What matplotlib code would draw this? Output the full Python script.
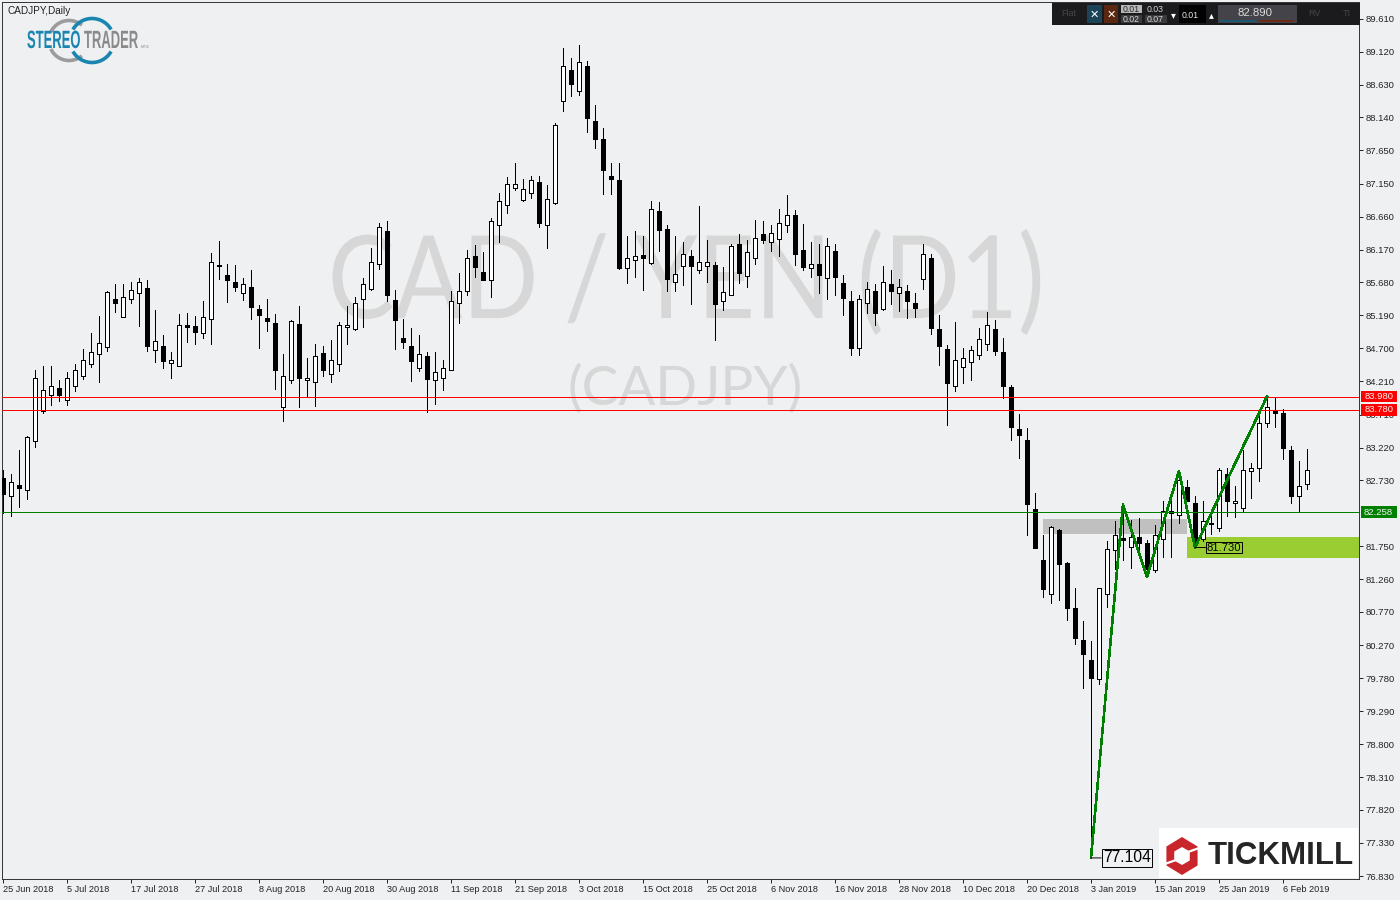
import numpy as np
import matplotlib
matplotlib.use('Agg')
import matplotlib.pyplot as plt
import matplotlib.patheffects as pe
from matplotlib.lines import Line2D
from matplotlib.patches import Polygon, Rectangle
from matplotlib.transforms import Affine2D, ScaledTranslation, blended_transform_factory

# daily CADJPY bars
opens = [
    82.76, 82.50, 82.66, 82.58, 83.32, 83.77, 84.01, 84.10, 83.93, 84.13,
    84.28, 84.46, 84.61, 84.72, 85.44, 85.17, 85.43, 85.53, 85.60, 84.68,
    84.74, 84.48, 84.44, 85.04, 85.03, 84.93, 85.13, 85.94, 85.79, 85.68,
    85.53, 85.62, 85.28, 85.15, 85.07, 83.83, 84.22, 85.06, 84.22, 84.20,
    84.63, 84.31, 84.47, 85.01, 84.99, 85.44, 85.59, 85.95, 86.44, 85.42,
    84.85, 84.73, 84.41, 84.58, 84.22, 84.25, 84.37, 85.37, 85.56, 86.08,
    85.84, 85.72, 86.54, 86.84, 87.09, 86.91, 87.02, 87.17, 86.53, 86.87,
    88.39, 88.84, 88.54, 88.90, 88.08, 87.82, 87.26, 87.20, 85.90, 86.02,
    86.09, 85.97, 86.74, 86.47, 85.69, 85.92, 86.07, 85.86, 85.92, 85.94,
    85.40, 85.50, 86.25, 85.78, 86.05, 86.40, 86.29, 86.33, 86.53, 86.68,
    86.17, 85.89, 85.95, 85.75, 86.15, 85.67, 85.40, 84.71, 85.38, 85.56,
    85.28, 85.65, 85.53, 85.56, 85.37, 85.73, 86.04, 84.98, 84.69, 84.14,
    84.42, 84.50, 84.60, 84.76, 84.99, 84.64, 84.12, 83.49, 83.33, 82.30,
    81.54, 81.04, 81.99, 81.50, 80.83, 80.35, 80.06, 79.77, 81.04, 81.70,
    81.87, 81.74, 81.88, 81.79, 81.39, 81.86, 82.27, 82.22, 82.63, 82.40,
    81.86, 82.10, 82.02, 82.82, 82.40, 82.32, 82.87, 82.92, 83.59, 83.76,
    83.73, 83.19, 82.50, 82.68,
]
highs = [
    82.88, 82.82, 83.18, 83.39, 84.37, 84.43, 84.43, 84.22, 84.34, 84.46,
    84.69, 84.92, 85.18, 85.55, 85.65, 85.65, 85.68, 85.74, 85.71, 85.27,
    84.89, 84.64, 85.21, 85.22, 85.18, 85.40, 86.12, 86.30, 85.95, 85.94,
    85.74, 85.86, 85.34, 85.43, 85.21, 84.61, 85.12, 85.33, 84.55, 84.76,
    84.73, 84.83, 85.09, 85.33, 85.46, 85.74, 86.19, 86.56, 86.59, 85.57,
    85.13, 85.00, 84.89, 84.64, 84.64, 84.53, 85.55, 85.82, 86.16, 86.24,
    86.13, 86.64, 87.02, 87.25, 87.46, 87.22, 87.26, 87.26, 87.14, 88.06,
    89.17, 89.02, 89.22, 88.98, 88.32, 87.98, 87.46, 87.46, 86.38, 86.44,
    86.38, 86.89, 86.88, 86.54, 86.37, 86.29, 86.16, 86.82, 86.31, 85.99,
    85.91, 86.25, 86.40, 86.31, 86.61, 86.59, 86.53, 86.77, 86.98, 86.76,
    86.55, 86.29, 86.26, 86.35, 86.25, 85.79, 85.55, 85.49, 85.68, 85.65,
    85.92, 85.86, 85.73, 85.64, 85.53, 86.25, 86.10, 85.19, 84.75, 85.09,
    84.71, 84.73, 85.00, 85.24, 85.12, 84.85, 84.15, 83.72, 83.51, 82.54,
    81.91, 82.05, 82.01, 81.52, 81.12, 80.63, 80.33, 81.12, 81.82, 82.12,
    82.37, 82.14, 82.17, 81.84, 82.06, 82.42, 82.57, 82.88, 82.73, 82.50,
    82.43, 82.26, 82.91, 82.91, 82.64, 83.18, 82.99, 83.69, 83.98, 83.98,
    83.79, 83.25, 83.02, 83.20,
]
lows = [
    82.24, 82.20, 82.34, 82.45, 83.23, 83.74, 83.85, 83.92, 83.85, 84.06,
    84.24, 84.42, 84.19, 84.66, 85.24, 85.17, 85.37, 85.03, 84.66, 84.49,
    84.40, 84.25, 84.44, 84.79, 84.77, 84.86, 84.76, 85.73, 85.39, 85.55,
    85.42, 85.13, 84.71, 84.95, 84.09, 83.61, 84.18, 83.82, 83.97, 83.84,
    84.28, 84.19, 84.36, 84.77, 84.97, 85.02, 85.57, 85.88, 85.41, 84.69,
    84.71, 84.21, 84.36, 83.75, 83.87, 84.08, 84.37, 85.08, 85.49, 85.76,
    85.72, 85.47, 86.28, 86.71, 87.06, 86.90, 86.94, 86.50, 86.19, 86.85,
    88.23, 88.46, 88.47, 87.93, 87.68, 87.00, 87.00, 85.88, 85.67, 85.76,
    85.57, 85.96, 86.15, 85.55, 85.55, 85.64, 85.36, 85.82, 85.68, 84.83,
    85.27, 85.50, 85.67, 85.62, 85.95, 86.27, 86.15, 86.07, 86.43, 85.94,
    85.86, 85.76, 85.52, 85.43, 85.49, 85.19, 84.60, 84.60, 85.22, 85.04,
    85.27, 85.36, 85.25, 85.15, 85.16, 85.59, 84.91, 84.45, 83.55, 84.07,
    84.18, 84.22, 84.54, 84.67, 84.60, 83.96, 83.33, 83.06, 81.91, 81.72,
    80.99, 80.90, 80.95, 80.65, 80.29, 79.63, 77.104, 79.70, 80.84, 81.41,
    81.54, 81.42, 81.60, 81.29, 81.37, 81.59, 81.59, 82.09, 82.43, 81.74,
    81.82, 81.93, 81.97, 82.20, 82.18, 82.26, 82.47, 82.72, 83.52, 83.52,
    83.05, 82.39, 82.26, 82.60,
]
closes = [
    82.53, 82.70, 82.62, 83.37, 84.25, 84.08, 84.14, 84.00, 84.25, 84.37,
    84.53, 84.64, 84.78, 85.54, 85.37, 85.46, 85.57, 85.68, 84.74, 84.81,
    84.51, 84.52, 85.05, 85.02, 84.94, 85.17, 85.98, 85.93, 85.72, 85.61,
    85.66, 85.32, 85.20, 85.11, 84.38, 84.29, 85.10, 84.26, 84.25, 84.58,
    84.38, 84.53, 85.04, 85.05, 85.38, 85.66, 85.98, 86.51, 85.50, 85.12,
    84.80, 84.51, 84.62, 84.24, 84.34, 84.41, 85.40, 85.56, 86.05, 85.91,
    85.72, 86.59, 86.90, 87.15, 87.15, 87.07, 87.20, 86.57, 86.92, 88.02,
    88.90, 88.64, 88.96, 88.13, 87.82, 87.36, 87.22, 85.89, 86.04, 86.08,
    86.05, 86.77, 86.46, 85.73, 85.81, 86.11, 85.93, 85.98, 85.98, 85.36,
    85.54, 86.22, 85.82, 86.13, 86.35, 86.31, 86.41, 86.57, 86.69, 86.11,
    85.91, 85.96, 85.79, 86.22, 85.76, 85.45, 84.71, 85.43, 85.59, 85.23,
    85.69, 85.55, 85.62, 85.40, 85.30, 86.11, 85.00, 84.73, 84.18, 84.53,
    84.56, 84.67, 84.84, 85.04, 84.66, 84.13, 83.53, 83.40, 82.38, 81.72,
    81.11, 82.03, 81.49, 80.83, 80.38, 80.14, 79.79, 81.12, 81.71, 81.91,
    81.84, 81.89, 81.79, 81.41, 81.92, 82.27, 82.24, 82.73, 82.43, 81.84,
    82.13, 82.08, 82.88, 82.42, 82.43, 82.89, 82.92, 83.59, 83.82, 83.74,
    83.22, 82.50, 82.64, 82.88,
]

date_labels = ['25 Jun 2018', '5 Jul 2018', '17 Jul 2018', '27 Jul 2018', '8 Aug 2018',
               '20 Aug 2018', '30 Aug 2018', '11 Sep 2018', '21 Sep 2018', '3 Oct 2018',
               '15 Oct 2018', '25 Oct 2018', '6 Nov 2018', '16 Nov 2018', '28 Nov 2018',
               '10 Dec 2018', '20 Dec 2018', '3 Jan 2019', '15 Jan 2019', '25 Jan 2019',
               '6 Feb 2019']
date_step = 8
price_ticks = [89.61, 89.12, 88.63, 88.14, 87.65, 87.15, 86.66, 86.17, 85.68, 85.19,
               84.70, 84.21, 83.71, 83.22, 82.73, 81.75, 81.26, 80.77, 80.27,
               79.78, 79.29, 78.80, 78.31, 77.82, 77.33, 76.83]

red_levels = [83.98, 83.78]
green_level = 82.258

zigzag_bars = [136, 140, 143, 147, 149, 158]
zigzag_prices = [77.104, 82.37, 81.29, 82.87, 81.73, 83.98]

gray_zone = (130, 148, 81.93, 82.15)
green_zone = (148, 81.57, 81.88)

BG = '#eef0f2'
INK = '#222222'
TEXT_FONT = ['Liberation Sans', 'DejaVu Sans']
THIN = 0.7


class Squeeze(pe.AbstractPathEffect):
    # narrows a real text around a pixel column, there is no condensed font to use
    def __init__(self, sx, x0):
        super().__init__()
        self.sx, self.x0 = sx, x0

    def draw_path(self, renderer, gc, tpath, affine, rgbFace=None):
        squeeze = Affine2D().translate(-self.x0, 0).scale(self.sx, 1).translate(self.x0, 0)
        renderer.draw_path(gc, tpath, affine + squeeze, rgbFace)


def add_rect(fig, px, x0, y0, x1, y1, color, zorder=11):
    fig.add_artist(Rectangle((x0, y0), x1 - x0, y1 - y0, transform=px, facecolor=color,
                             edgecolor='none', linewidth=0, zorder=zorder))


def add_text(fig, px, x, y, s, size, color, ha='center', weight='normal', family=None, zorder=12):
    return fig.text(x, y, s, transform=px, fontsize=size, color=color, ha=ha, va='center',
                    fontweight=weight, family=family or TEXT_FONT, zorder=zorder)


def draw_candles(ax):
    x = np.arange(len(opens))
    o, h, l, c = map(np.array, (opens, highs, lows, closes))
    ax.vlines(x, l, h, color='black', linewidth=THIN, zorder=3, antialiased=False)
    colors = np.where(c > o, 'white', 'black')
    ax.bar(x, np.abs(c - o), bottom=np.minimum(o, c), width=0.5, color=colors,
           edgecolor='black', linewidth=THIN, zorder=4, antialiased=False)


def add_flag(ax, level, color):
    trans = blended_transform_factory(ax.transAxes, ax.transData)
    half = 0.085
    ax.add_patch(Rectangle((1.0012, level - half), 0.0265, 2 * half, transform=trans, facecolor=color,
                           edgecolor='none', clip_on=False, zorder=9))
    ax.text(1.0145, level, f'{level:.3f}', transform=trans, fontsize=6.8, color='#f4f4f4',
            va='center', ha='center', clip_on=False, zorder=10, family=TEXT_FONT)


def draw_levels(ax):
    for level in red_levels:
        ax.axhline(level, color='#ff0000', linewidth=0.72, zorder=6)
        add_flag(ax, level, '#ff0000')
    ax.axhline(green_level, color='#008000', linewidth=0.72, zorder=6)
    add_flag(ax, green_level, '#008000')


def draw_zones(ax):
    left, right, low, high = gray_zone
    ax.add_patch(Rectangle((left, low), right - left, high - low, facecolor='#c0c0c0',
                           edgecolor='none', zorder=2))
    start, low, high = green_zone
    ax.add_patch(Rectangle((start, low), ax.get_xlim()[1] - start, high - low,
                           facecolor='#9acd32', edgecolor='none', zorder=2))


def draw_zigzag(ax):
    ax.plot(zigzag_bars, zigzag_prices, color='#008000', linewidth=1.15, zorder=7, antialiased=False)
    for i in (0, 4):
        bar, price = zigzag_bars[i], zigzag_prices[i]
        size = 11.3 if i == 0 else 8.1
        box = '#f0f1f2' if i == 0 else '#9acd32'
        ax.annotate(f'{price:.3f}', xy=(bar, price), xytext=(8.5, 0), textcoords='offset points',
                    fontsize=size, color='black', va='center', ha='left', zorder=8, family=TEXT_FONT,
                    arrowprops=dict(arrowstyle='-', color='black', linewidth=THIN, shrinkA=0, shrinkB=0),
                    bbox=dict(boxstyle='square,pad=0.08', facecolor=box, edgecolor='black', linewidth=THIN))


def draw_toolbar(fig, px):
    add_rect(fig, px, 1052, 3, 1360, 25, '#1b1b1d', zorder=10)
    add_text(fig, px, 1069, 14, 'Flat', 6.5, '#46464a')
    add_rect(fig, px, 1087, 5, 1102, 23, '#1b4557')
    add_text(fig, px, 1094.5, 14.5, '✕', 8, 'white', family=['DejaVu Sans'])
    add_rect(fig, px, 1104, 5, 1118, 23, '#5b2710')
    add_text(fig, px, 1111, 14.5, '✕', 8, 'white', family=['DejaVu Sans'])
    add_rect(fig, px, 1121, 5, 1142, 13, '#b8b8b8')
    add_text(fig, px, 1131, 9, '0.01', 6.3, '#2a2a2a')
    add_text(fig, px, 1155, 9, '0.03', 6.3, '#d5d5d5')
    add_rect(fig, px, 1121, 15, 1142, 23, '#3a3a3d')
    add_text(fig, px, 1131, 19, '0.02', 6.3, '#d5d5d5')
    add_rect(fig, px, 1145, 15, 1167, 23, '#3a3a3d')
    add_text(fig, px, 1155, 19, '0.07', 6.3, '#d5d5d5')
    add_text(fig, px, 1173, 15, '▾', 7, 'white', family=['DejaVu Sans'])
    add_rect(fig, px, 1179, 5, 1206, 23, 'black')
    add_text(fig, px, 1190, 15, '0.01', 6.3, '#e8e8e8')
    add_text(fig, px, 1211, 15, '▴', 7, 'white', family=['DejaVu Sans'])
    add_rect(fig, px, 1218, 5, 1297, 23, '#444349')
    add_text(fig, px, 1255, 13, '82.890', 8.2, '#dddddd')
    add_rect(fig, px, 1220, 20, 1255, 22, '#1b5a73', zorder=12)
    add_rect(fig, px, 1259, 20, 1293, 22, '#6e2a12', zorder=12)
    add_text(fig, px, 1314, 14, 'RV', 6.5, '#46464a')
    add_text(fig, px, 1347, 14, 'TI', 6.5, '#46464a')


def draw_stereotrader(fig, px):
    add_text(fig, px, 7, 10.5, 'CADJPY,Daily', 7.2, INK, ha='left')
    stereo = add_text(fig, px, 27, 41, 'STEREO', 18, '#1a85b0', ha='left', weight='bold')
    stereo.set_path_effects([Squeeze(0.52, 27)])
    trader = add_text(fig, px, 84, 41, 'TRADER', 18, '#8a8a8a', ha='left', weight='bold')
    trader.set_path_effects([Squeeze(0.52, 84)])
    add_text(fig, px, 145, 47, 'MT4', 3.2, '#8a8a8a')
    for cx, r, color, spans in ((69, 20, '#9c9c9c', ((50, 155), (205, 310))),
                                (92, 22, '#1a85b0', ((30, 150), (210, 330)))):
        for a0, a1 in spans:
            t = np.radians(np.linspace(a0, a1, 40))
            fig.add_artist(Line2D(cx + r * np.cos(t), 40.5 + r * np.sin(t), transform=px,
                                  color=color, linewidth=2.6, solid_capstyle='butt'))


def draw_tickmill(fig, px):
    add_rect(fig, px, 1159, 828, 1358, 878, 'white', zorder=10)
    cx, cy = 1182, 856
    angles = np.radians(np.arange(30, 390, 60))
    outer = [(cx + 18 * np.cos(a), cy + 19 * np.sin(a)) for a in angles]
    inner = [(cx + 9 * np.cos(a), cy + 9 * np.sin(a)) for a in angles]
    fig.add_artist(Polygon(outer, closed=True, transform=px, facecolor='#c8262b', edgecolor='none', zorder=11))
    fig.add_artist(Polygon(inner, closed=True, transform=px, facecolor='white', edgecolor='none', zorder=12))
    for xs, ys in (((cx + 6, cx + 20), (cy - 4, cy - 9)), ((cx - 20, cx - 6), (cy + 9, cy + 4))):
        fig.add_artist(Line2D(xs, ys, transform=px, color='white', linewidth=1.6, zorder=12))
    add_text(fig, px, 1208, 856, 'TICKMILL', 22.5, '#252525', ha='left', weight='bold', zorder=13)


def main():
    plt.rcParams['font.family'] = TEXT_FONT
    fig = plt.figure(figsize=(14, 9), dpi=100, facecolor=BG)
    ax = fig.add_axes([2 / 1400, 21 / 900, 1357 / 1400, 877 / 900], facecolor=BG)
    ax.set_xlim(-0.1, 169.5)
    ax.set_ylim(76.79, 89.86)
    px = Affine2D().scale(1 / 1400, -1 / 900).translate(0, 1) + fig.transFigure

    mark = ax.text(0.5035, 0.677, 'CAD / YEN (D1)', transform=ax.transAxes, fontsize=83, color='#d6d7d6',
                   ha='center', va='center', family=['Lato', 'DejaVu Sans'], zorder=1)
    mark.set_path_effects([Squeeze(0.868, 690)])
    ax.text(0.5035, 0.5585, '(CADJPY)', transform=ax.transAxes, fontsize=39.5, color='#d6d7d6',
            ha='center', va='center', family=['Lato', 'DejaVu Sans'], zorder=1)

    draw_zones(ax)
    draw_candles(ax)
    draw_levels(ax)
    draw_zigzag(ax)

    ax.yaxis.tick_right()
    ax.set_yticks(price_ticks)
    ax.set_yticklabels([f'{p:.3f}' for p in price_ticks])
    ax.set_xticks(np.arange(len(date_labels)) * date_step)
    ax.set_xticklabels(date_labels, ha='left')
    shift = ScaledTranslation(-1 / 100, 0, fig.dpi_scale_trans)
    for label in ax.get_xticklabels():
        label.set_transform(label.get_transform() + shift)
    ax.tick_params(axis='y', length=3, width=THIN, color=INK, labelsize=6.8, labelcolor=INK, pad=1.5)
    ax.tick_params(axis='x', length=3, width=THIN, color=INK, labelsize=6.6, labelcolor=INK, pad=1)
    for spine in ax.spines.values():
        spine.set_linewidth(THIN)
        spine.set_color('#333333')

    draw_toolbar(fig, px)
    draw_stereotrader(fig, px)
    draw_tickmill(fig, px)

    fig.savefig('out.png', dpi=100, facecolor=BG)


if __name__ == '__main__':
    main()
